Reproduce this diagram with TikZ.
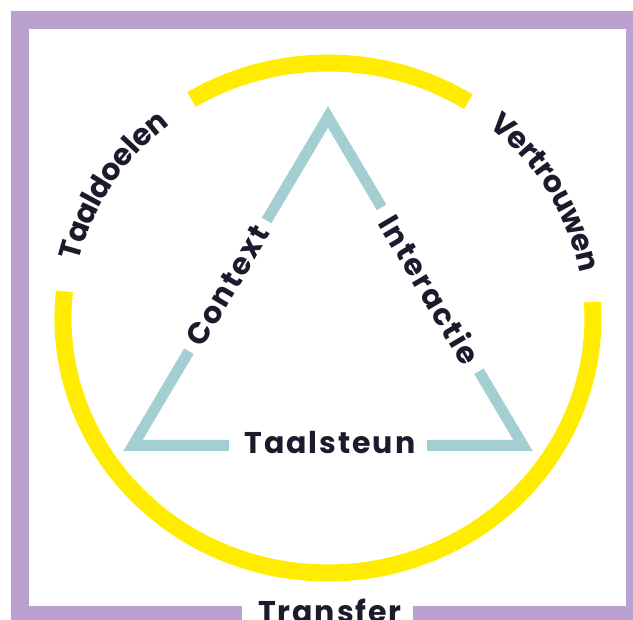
\documentclass[tikz,border=0pt]{standalone}
\usepackage{fontspec}
\setmainfont{Poppins}
\newfontfamily\spacedfont{Poppins}[LetterSpace=6.5]
\usetikzlibrary{calc, decorations.text}

\definecolor{framepurple}{HTML}{BBA1CF}
\definecolor{ringyellow}{HTML}{FFEC00}
\definecolor{sidegreen}{HTML}{A3CFD2}
\definecolor{labelink}{HTML}{1C1B2E}

\begin{document}
\begin{tikzpicture}[
    x=1pt, y=1pt,
    frame_line/.style={draw=framepurple, line width=18pt, line join=miter},
    ring_line/.style={draw=ringyellow, line width=17pt},
    side_line/.style={draw=sidegreen, line width=11pt, line join=miter},
    node_label/.style={text=labelink, font=\spacedfont\fontsize{30}{31}\selectfont\bfseries, inner sep=0pt},
    ring_label/.style={decoration={text along path, text align=center, raise=-9pt,
        text color=labelink, text={|\spacedfont\fontsize{30}{31}\selectfont\bfseries|#1}}, decorate}
  ]
    \useasboundingbox (0,-620) rectangle (633,0);

    % outer frame, open at the bottom
    \draw[frame_line] (242,-615) -- (20,-615) -- (20,-20) -- (635,-20) -- (635,-615) -- (413,-615);
    \node[node_label, anchor=base] (transfer) at (330,-623) {Transfer};

    % ring
    \coordinate (ring) at (328,-318);
    \draw[ring_line] (ring) ++(58:265pt and 255pt)
      arc[start angle=58, end angle=121, x radius=265pt, y radius=255pt];
    \draw[ring_line] (ring) ++(174:265pt and 255pt)
      arc[start angle=174, end angle=363.6, x radius=265pt, y radius=255pt];
    \path[ring_label=Taaldoelen] (ring) ++(174:265pt and 255pt)
      arc[start angle=174, end angle=121, x radius=265pt, y radius=255pt];
    \path[ring_label=Vertrouwen] (ring) ++(58:265pt and 255pt)
      arc[start angle=58, end angle=3.6, x radius=265pt, y radius=255pt];

    % triangle
    \coordinate (apex) at (328,-117);
    \coordinate (left) at (133,-445.5);
    \coordinate (right) at (523,-445.5);

    \draw[side_line] ($(left)!0.287!(apex)$) -- (left) -- ($(left)!0.246!(right)$);
    \draw[side_line] ($(left)!0.685!(apex)$) -- (apex) -- ($(apex)!0.275!(right)$);
    \draw[side_line] ($(apex)!0.774!(right)$) -- (right) -- ($(left)!0.754!(right)$);

    \node[node_label, rotate=59.3] (context) at ($(left)!0.486!(apex)$) {Context};
    \node[node_label, rotate=-59.3] (interactie) at ($(apex)!0.525!(right)$) {Interactie};
    \node[node_label] (taalsteun) at (330,-442.5) {Taalsteun};
  \end{tikzpicture}
\end{document}
